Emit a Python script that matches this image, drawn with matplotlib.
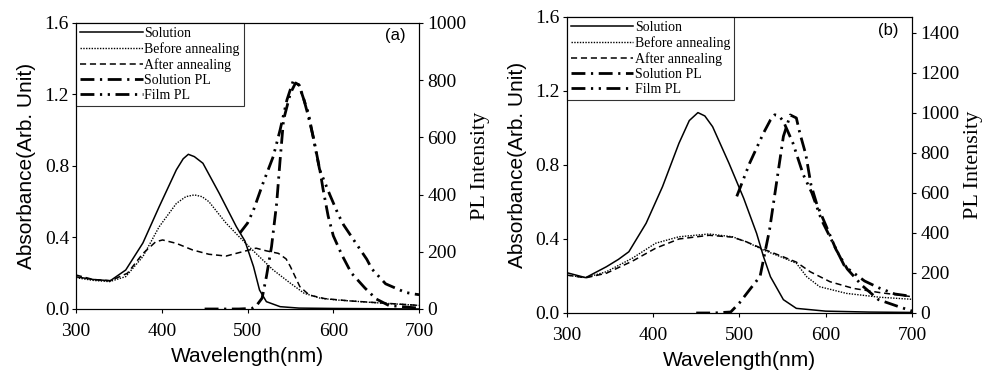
import matplotlib
matplotlib.use('Agg')
import matplotlib.pyplot as plt

# ---- panel (a) data ----
wl_a_sol = [300, 320, 340, 358, 378, 397, 417, 425, 431, 438, 448, 467, 487, 497, 507, 514, 522, 538, 560, 600, 700]
abs_a_sol = [0.18, 0.165, 0.158, 0.218, 0.369, 0.572, 0.778, 0.84, 0.865, 0.852, 0.815, 0.647, 0.46, 0.38, 0.237, 0.106, 0.041, 0.013, 0.005, 0.003, 0.0]

wl_a_before = [300, 320, 339, 358, 378, 397, 417, 428, 438, 447, 455, 475, 490, 510, 530, 550, 566, 585, 605, 650, 700]
abs_a_before = [0.175, 0.16, 0.153, 0.181, 0.293, 0.46, 0.59, 0.628, 0.638, 0.628, 0.60, 0.48, 0.405, 0.31, 0.218, 0.144, 0.088, 0.06, 0.05, 0.035, 0.02]

wl_a_after = [300, 320, 340, 360, 378, 393, 401, 417, 436, 455, 475, 494, 510, 522, 536, 545, 550, 561, 572, 590, 620, 700]
abs_a_after = [0.19, 0.165, 0.158, 0.2, 0.31, 0.376, 0.386, 0.367, 0.33, 0.306, 0.296, 0.32, 0.34, 0.325, 0.311, 0.28, 0.237, 0.125, 0.078, 0.058, 0.045, 0.02]

wl_a_solpl = [450, 470, 490, 505, 510, 517, 522, 528, 534, 538, 542, 550, 556, 560, 565, 570, 577, 585, 588, 594, 600, 610, 621, 637, 650, 665, 700]
pl_a_solpl = [0, 0, 0, 2, 10, 38, 113, 218, 370, 521, 661, 754, 790, 783, 740, 684, 597, 475, 420, 325, 256, 189, 126, 73, 35, 12, 3]

wl_a_filmpl = [491, 500, 507, 518, 530, 538, 546, 553, 560, 571, 584, 596, 606, 612, 625, 639, 645, 661, 684, 695, 700]
pl_a_filmpl = [265, 300, 346, 439, 533, 626, 731, 795, 783, 684, 488, 399, 329, 294, 236, 174, 140, 88, 58, 52, 50]

# ---- panel (b) data ----
wl_b_sol = [300, 322, 346, 360, 372, 392, 411, 430, 442, 452, 460, 469, 488, 505, 520, 528, 536, 551, 566, 600, 650, 700]
abs_b_sol = [0.218, 0.191, 0.25, 0.29, 0.331, 0.485, 0.683, 0.917, 1.04, 1.083, 1.065, 1.007, 0.809, 0.62, 0.43, 0.304, 0.196, 0.072, 0.025, 0.01, 0.005, 0.003]

wl_b_before = [300, 322, 346, 376, 403, 430, 465, 492, 508, 528, 550, 566, 578, 593, 624, 663, 700]
abs_b_before = [0.205, 0.191, 0.223, 0.296, 0.377, 0.412, 0.427, 0.412, 0.385, 0.34, 0.30, 0.269, 0.196, 0.142, 0.106, 0.085, 0.074]

wl_b_after = [300, 322, 346, 376, 403, 430, 465, 492, 508, 528, 550, 566, 582, 605, 632, 663, 700]
abs_b_after = [0.205, 0.19, 0.215, 0.28, 0.35, 0.40, 0.42, 0.41, 0.385, 0.345, 0.305, 0.275, 0.223, 0.169, 0.133, 0.11, 0.088]

wl_b_solpl = [450, 470, 490, 500, 512, 524, 535, 543, 551, 559, 566, 570, 577, 583, 590, 600, 612, 625, 642, 661, 687, 700]
pl_b_solpl = [0, 0, 5, 50, 117, 183, 417, 650, 883, 990, 975, 900, 792, 640, 540, 440, 317, 220, 138, 67, 28, 10]

wl_b_filmpl = [497, 512, 528, 536, 541, 546, 551, 562, 574, 584, 595, 605, 622, 630, 645, 662, 680, 700]
pl_b_filmpl = [583, 750, 900, 965, 991, 985, 958, 850, 692, 600, 467, 380, 233, 208, 160, 125, 95, 83]

labels = ['Solution', 'Before annealing', 'After annealing', 'Solution PL', 'Film PL']
abs_ticks = [0.0, 0.4, 0.8, 1.2, 1.6]

serif = 'Liberation Serif'
sans = 'Liberation Sans'

ls_sol = '-'
ls_before = (0, (1, 1))
ls_after = (0, (4, 2.5))
ls_solpl = (0, (5, 2, 0.8, 2))
ls_filmpl = (0, (5, 2, 0.8, 2, 0.8, 2))


def draw_panel(fig, rect, data, pl_top, pl_ticks, tag):
    ax = fig.add_axes(rect)
    axr = ax.twinx()
    (wl_s, a_s), (wl_b, a_b), (wl_a, a_a), (wl_sp, p_sp), (wl_fp, p_fp) = data

    h1, = ax.plot(wl_s, a_s, color='black', lw=1.1, ls=ls_sol)
    h2, = ax.plot(wl_b, a_b, color='black', lw=1.0, ls=ls_before)
    h3, = ax.plot(wl_a, a_a, color='black', lw=1.1, ls=ls_after)
    h4, = axr.plot(wl_sp, p_sp, color='black', lw=2.0, ls=ls_solpl)
    h5, = axr.plot(wl_fp, p_fp, color='black', lw=2.0, ls=ls_filmpl)

    ax.set_xlim(300, 700)
    ax.set_ylim(0, 1.6)
    axr.set_ylim(0, pl_top)
    ax.set_xticks([300, 400, 500, 600, 700])
    ax.set_yticks(abs_ticks)
    ax.set_yticklabels([f'{v:.1f}' for v in abs_ticks])
    axr.set_yticks(pl_ticks)
    for a in (ax, axr):
        a.tick_params(direction='out', length=3, width=0.8, labelsize=14)
        for lab in a.get_xticklabels() + a.get_yticklabels():
            lab.set_fontfamily(serif)
    ax.tick_params(axis='x', pad=7)
    ax.tick_params(axis='y', pad=2)
    axr.tick_params(axis='y', pad=3)

    ax.set_xlabel('Wavelength(nm)', family=sans, fontsize=15, labelpad=5)
    ax.set_ylabel('Absorbance(Arb. Unit)', family=sans, fontsize=15, labelpad=6)
    axr.set_ylabel('PL Intensity', family=serif, fontsize=16, labelpad=3)

    leg = ax.legend([h1, h2, h3, h4, h5], labels, loc='upper left',
                    prop={'family': serif, 'size': 10}, handlelength=4.5,
                    handletextpad=0.1, labelspacing=0.15, borderpad=0.3,
                    borderaxespad=0, fancybox=False, frameon=True)
    leg.get_frame().set_edgecolor('black')
    leg.get_frame().set_linewidth(0.8)
    ax.text(0.93, 0.955, tag, transform=ax.transAxes, ha='center', va='center',
            family=sans, fontsize=12)
    return ax, axr


fig = plt.figure(figsize=(9.83, 3.81), dpi=100)

draw_panel(fig, [0.0773, 0.189, 0.349, 0.751],
           [(wl_a_sol, abs_a_sol), (wl_a_before, abs_a_before), (wl_a_after, abs_a_after),
            (wl_a_solpl, pl_a_solpl), (wl_a_filmpl, pl_a_filmpl)],
           1000, [0, 200, 400, 600, 800, 1000], '(a)')

draw_panel(fig, [0.5765, 0.1785, 0.3513, 0.777],
           [(wl_b_sol, abs_b_sol), (wl_b_before, abs_b_before), (wl_b_after, abs_b_after),
            (wl_b_solpl, pl_b_solpl), (wl_b_filmpl, pl_b_filmpl)],
           1480, [0, 200, 400, 600, 800, 1000, 1200, 1400], '(b)')

plt.savefig('out.png', dpi=100)
